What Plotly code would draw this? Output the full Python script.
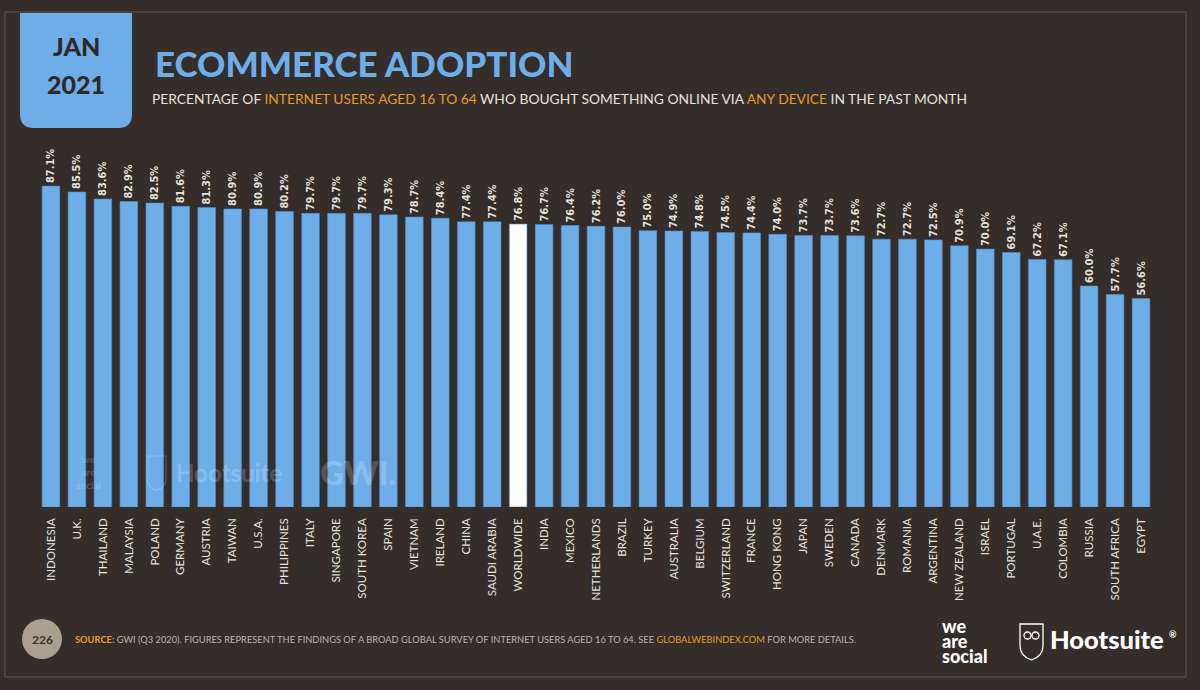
import plotly.graph_objects as go

W, H = 1200, 690
M_L, M_R, M_T, M_B = 38, 46, 157, 183

countries = [
    "INDONESIA", "U.K.", "THAILAND", "MALAYSIA", "POLAND", "GERMANY", "AUSTRIA",
    "TAIWAN", "U.S.A.", "PHILIPPINES", "ITALY", "SINGAPORE", "SOUTH KOREA", "SPAIN",
    "VIETNAM", "IRELAND", "CHINA", "SAUDI ARABIA", "WORLDWIDE", "INDIA", "MEXICO",
    "NETHERLANDS", "BRAZIL", "TURKEY", "AUSTRALIA", "BELGIUM", "SWITZERLAND", "FRANCE",
    "HONG KONG", "JAPAN", "SWEDEN", "CANADA", "DENMARK", "ROMANIA", "ARGENTINA",
    "NEW ZEALAND", "ISRAEL", "PORTUGAL", "U.A.E.", "COLOMBIA", "RUSSIA",
    "SOUTH AFRICA", "EGYPT",
]
adoption = [
    87.1, 85.5, 83.6, 82.9, 82.5, 81.6, 81.3,
    80.9, 80.9, 80.2, 79.7, 79.7, 79.7, 79.3,
    78.7, 78.4, 77.4, 77.4, 76.8, 76.7, 76.4,
    76.2, 76.0, 75.0, 74.9, 74.8, 74.5, 74.4,
    74.0, 73.7, 73.7, 73.6, 72.7, 72.7, 72.5,
    70.9, 70.0, 69.1, 67.2, 67.1, 60.0,
    57.7, 56.6,
]
highlight = "WORLDWIDE"

BG = "#352d29"
BLUE = "#6daee9"
ORANGE = "#e69a2a"
TEXT = "#e4e1de"


def px(x):
    # pixel x -> paper x
    return (x - M_L) / (W - M_L - M_R)


def py(y):
    # pixel y (from top) -> paper y
    return (H - M_B - y) / (H - M_T - M_B)


def label(x, y, text, size, color, anchor="left", weight="bold", family="Lato"):
    return dict(x=px(x), y=py(y), xref="paper", yref="paper",
                xanchor=anchor, yanchor="middle", showarrow=False,
                text=text, font=dict(family=family, size=size, color=color, weight=weight))


bar_colors = ["#ffffff" if c == highlight else BLUE for c in countries]

fig = go.Figure()
fig.add_trace(go.Bar(
    x=countries,
    y=adoption,
    marker=dict(color=bar_colors, line=dict(color="#4f8fcb", width=0.6)),
    text=[f"{v:.1f}%" for v in adoption],
    textposition="outside",
    textangle=-90,
    constraintext="none",
    cliponaxis=False,
    textfont=dict(family="DejaVu Sans Condensed", size=11, color=TEXT, weight="bold"),
    hovertemplate="%{x}: %{y:.1f}%<extra></extra>",
))

shapes = []
annotations = []

# outer frame
shapes.append(dict(type="rect", xref="paper", yref="paper",
                   x0=px(5), x1=px(1186), y0=py(677), y1=py(12),
                   line=dict(color="#5e5650", width=1), layer="below"))

# date box with rounded bottom corners
bx0, bx1, by0, by1, r = 20, 132, 13, 128, 14
box_path = (f"M {px(bx0)},{py(by0)} L {px(bx1)},{py(by0)} L {px(bx1)},{py(by1 - r)} "
            f"Q {px(bx1)},{py(by1)} {px(bx1 - r)},{py(by1)} L {px(bx0 + r)},{py(by1)} "
            f"Q {px(bx0)},{py(by1)} {px(bx0)},{py(by1 - r)} Z")
shapes.append(dict(type="path", xref="paper", yref="paper", path=box_path,
                   fillcolor=BLUE, line=dict(width=0)))
annotations.append(label(76, 46, "JAN", 25, "#2e2926", anchor="center", weight=900))
annotations.append(label(76, 84, "2021", 25, "#2e2926", anchor="center", weight=900))

# title + subtitle
annotations.append(label(153, 63, "ECOMMERCE ADOPTION", 35, BLUE, weight=900))
subtitle = ("PERCENTAGE OF <span style='color:%s'>INTERNET USERS AGED 16 TO 64</span> "
            "WHO BOUGHT SOMETHING ONLINE VIA <span style='color:%s'>ANY DEVICE</span> "
            "IN THE PAST MONTH") % (ORANGE, ORANGE)
annotations.append(label(150, 98, subtitle, 13.8, TEXT, weight="normal"))

# watermark inside plot
WM = "rgba(255,255,255,0.2)"
annotations.append(label(74, 472, "we<br>are<br>social", 10, WM))
shapes.append(dict(type="path", xref="paper", yref="paper",
                   path=(f"M {px(147)},{py(456)} L {px(166)},{py(456)} L {px(166)},{py(478)} "
                         f"Q {px(166)},{py(488)} {px(156.5)},{py(490)} "
                         f"Q {px(147)},{py(488)} {px(147)},{py(478)} Z"),
                   line=dict(color=WM, width=1.2)))
annotations.append(label(174, 472, "Hootsuite", 24, WM))
annotations.append(label(318, 472, "GWI.", 33, WM, weight=900))

# footer: page number circle + source
shapes.append(dict(type="circle", xref="paper", yref="paper",
                   x0=px(22), x1=px(62), y0=py(659), y1=py(619),
                   fillcolor="#ab9f8f", line=dict(width=0), layer="below"))
annotations.append(label(42, 639, "226", 12, "#3a332e", anchor="center"))
source = ("<b><span style='color:%s'>SOURCE:</span></b> GWI (Q3 2020). FIGURES REPRESENT THE "
          "FINDINGS OF A BROAD GLOBAL SURVEY OF INTERNET USERS AGED 16 TO 64. SEE "
          "<span style='color:%s'>GLOBALWEBINDEX.COM</span> FOR MORE DETAILS.") % (ORANGE, ORANGE)
annotations.append(label(73, 639, source, 9.3, "#b8b2ac", weight="normal"))

# footer logos
for i, w in enumerate(["we", "are", "social"]):
    annotations.append(label(940, 626 + i * 15, w, 18, "#ffffff", weight=900))
shapes.append(dict(type="path", xref="paper", yref="paper",
                   path=(f"M {px(1020)},{py(624)} L {px(1043)},{py(624)} L {px(1043)},{py(646)} "
                         f"Q {px(1043)},{py(656)} {px(1031.5)},{py(660)} "
                         f"Q {px(1020)},{py(656)} {px(1020)},{py(646)} Z"),
                   line=dict(color="#ffffff", width=1.3)))
shapes.append(dict(type="circle", xref="paper", yref="paper",
                   x0=px(1024), x1=px(1031), y0=py(639), y1=py(632),
                   line=dict(color="#ffffff", width=1.3)))
shapes.append(dict(type="circle", xref="paper", yref="paper",
                   x0=px(1032), x1=px(1039), y0=py(639), y1=py(632),
                   line=dict(color="#ffffff", width=1.3)))
annotations.append(label(1048, 639, "Hootsuite", 25.5, "#ffffff", weight=900))
annotations.append(label(1167, 634, "®", 9, "#ffffff"))

fig.update_layout(
    width=W,
    height=H,
    margin=dict(l=M_L, r=M_R, t=M_T, b=M_B, pad=0),
    paper_bgcolor=BG,
    plot_bgcolor=BG,
    bargap=0.32,
    showlegend=False,
    shapes=shapes,
    annotations=annotations,
    xaxis=dict(
        showgrid=False, zeroline=False, showline=False,
        tickangle=-90, ticks="", ticklabelstandoff=8,
        tickfont=dict(family="Lato", size=11.5, color=TEXT),
        fixedrange=True,
    ),
    yaxis=dict(
        range=[0, 95], visible=False, showgrid=False, zeroline=False,
        fixedrange=True,
    ),
)

fig.write_html("out.html",
               config={"displayModeBar": False},
               post_script="document.body.style.margin='0';document.body.style.overflow='hidden';")
